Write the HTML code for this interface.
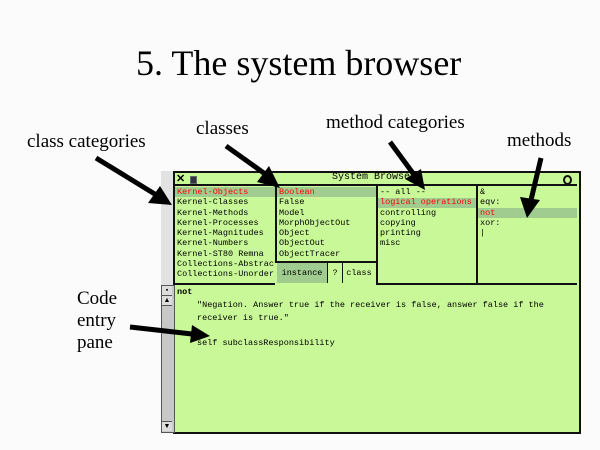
<!DOCTYPE html>
<html><head><meta charset="utf-8"><style>
body{margin:0;width:600px;height:450px;background:#fbfbfb;position:relative;overflow:hidden;font-family:"Liberation Serif",serif}
.a{position:absolute;white-space:nowrap}
.lbl{font-size:19px;color:#000}
.m{font-family:"Liberation Mono",monospace;font-size:8.5px;line-height:10.3px;color:#000}
.r{color:#f00}
.g{background:#c9f898}
.sel{background:#a0cc90}
.col{overflow:hidden;height:96px}
</style></head><body>
<div class="a" style="left:136px;top:42px;font-size:36px;line-height:42px">5. The system browser</div>
<div class="a lbl" style="left:27px;top:131px">class categories</div>
<div class="a lbl" style="left:196px;top:118px">classes</div>
<div class="a lbl" style="left:326px;top:112px">method categories</div>
<div class="a lbl" style="left:507px;top:130px">methods</div>
<div class="a lbl" style="left:77px;top:288px;line-height:22px">Code<br>entry<br>pane</div>

<div class="a" style="left:161px;top:171px;width:14px;height:262px;background:#e2e2e2"></div>
<div class="a g" style="left:173px;top:171px;width:404px;height:259px;border:2px solid #111"></div>
<div class="a g" style="left:175px;top:173px;width:402px;height:11px;border-bottom:2px solid #111"></div>
<div class="a" style="left:176px;top:172px;font-family:'Liberation Sans',sans-serif;font-weight:bold;font-size:11px">✕</div>
<div class="a" style="left:190px;top:176px;width:5px;height:6px;background:#334;border:1px solid #666"></div>
<div class="a m" style="left:332px;top:173px;font-size:10px">System Browser</div>
<div class="a" style="left:563px;top:175px;width:5px;height:6px;border:2px solid #111;border-radius:50%"></div>
<div class="a" style="left:275px;top:185px;width:2px;height:99px;background:#111"></div>
<div class="a" style="left:376px;top:185px;width:2px;height:99px;background:#111"></div>
<div class="a" style="left:476px;top:185px;width:2px;height:99px;background:#111"></div>
<div class="a" style="left:175px;top:283px;width:402px;height:2px;background:#111"></div>
<div class="a sel" style="left:175px;top:187px;width:100px;height:10px"></div>
<div class="a sel" style="left:277px;top:187px;width:99px;height:10px"></div>
<div class="a sel" style="left:378px;top:198px;width:98px;height:10px"></div>
<div class="a sel" style="left:478px;top:208px;width:99px;height:10px"></div>
<div class="a m col" style="left:177px;top:187px;width:98px"><span class="r">Kernel-Objects</span><br>Kernel-Classes<br>Kernel-Methods<br>Kernel-Processes<br>Kernel-Magnitudes<br>Kernel-Numbers<br>Kernel-ST80 Remna<br>Collections-Abstract<br>Collections-Unorder</div>
<div class="a m col" style="left:279px;top:187px;width:96px;height:74px"><span class="r">Boolean</span><br>False<br>Model<br>MorphObjectOut<br>Object<br>ObjectOut<br>ObjectTracer</div>
<div class="a m col" style="left:380px;top:187px;width:95px"><span>-- all --</span><br><span class="r">logical operations</span><br>controlling<br>copying<br>printing<br>misc</div>
<div class="a m col" style="left:480px;top:187px;width:96px">&amp;<br>eqv:<br><span class="r">not</span><br>xor:<br>|</div>
<div class="a g" style="left:275px;top:261px;width:101px;height:22px;border-top:2px solid #111"></div>
<div class="a sel m" style="left:277px;top:263px;width:50px;height:20px;line-height:20px;text-align:center;border-right:1px solid #111">instance</div>
<div class="a m" style="left:328px;top:263px;width:14px;height:20px;line-height:20px;text-align:center;border-right:1px solid #111">?</div>
<div class="a m" style="left:343px;top:263px;width:32px;height:20px;line-height:20px;text-align:center">class</div>
<div class="a" style="left:161px;top:285px;width:12px;height:146px;background:#c8c8c8;border:1px solid #555"></div>
<div class="a" style="left:162px;top:286px;width:10px;height:9px;background:#ddd;border-bottom:1px solid #555;font-size:7px;text-align:center;line-height:9px">▪</div>
<div class="a" style="left:162px;top:296px;width:10px;height:9px;background:#ddd;border-bottom:1px solid #555;font-size:7px;text-align:center;line-height:9px">▲</div>
<div class="a" style="left:162px;top:421px;width:10px;height:9px;background:#ddd;border-top:1px solid #555;font-size:7px;text-align:center;line-height:9px">▼</div>
<div class="a m" style="left:177px;top:287px;font-weight:bold">not</div>
<div class="a m" style="left:197px;top:299px;line-height:12.5px">"Negation. Answer true if the receiver is false, answer false if the<br>receiver is true."<br><br>self subclassResponsibility</div>

<svg class="a" style="left:0;top:0" width="600" height="450">
<g stroke="#000" stroke-width="5" fill="#000">
<line x1="96" y1="158" x2="158" y2="196"/>
<polygon points="172,205 148,203 160,186" stroke="none"/>
<line x1="226" y1="146" x2="268" y2="176"/>
<polygon points="280,188 257,182 269,166" stroke="none"/>
<line x1="390" y1="142" x2="415" y2="176"/>
<polygon points="425,190 405,179 421,169" stroke="none"/>
<line x1="541" y1="158" x2="531" y2="200"/>
<polygon points="527,218 520,197 540,200" stroke="none"/>
<line x1="130" y1="327" x2="192" y2="334"/>
<polygon points="210,336 190,343 192,325" stroke="none"/>
</g>
</svg>
</body></html>
